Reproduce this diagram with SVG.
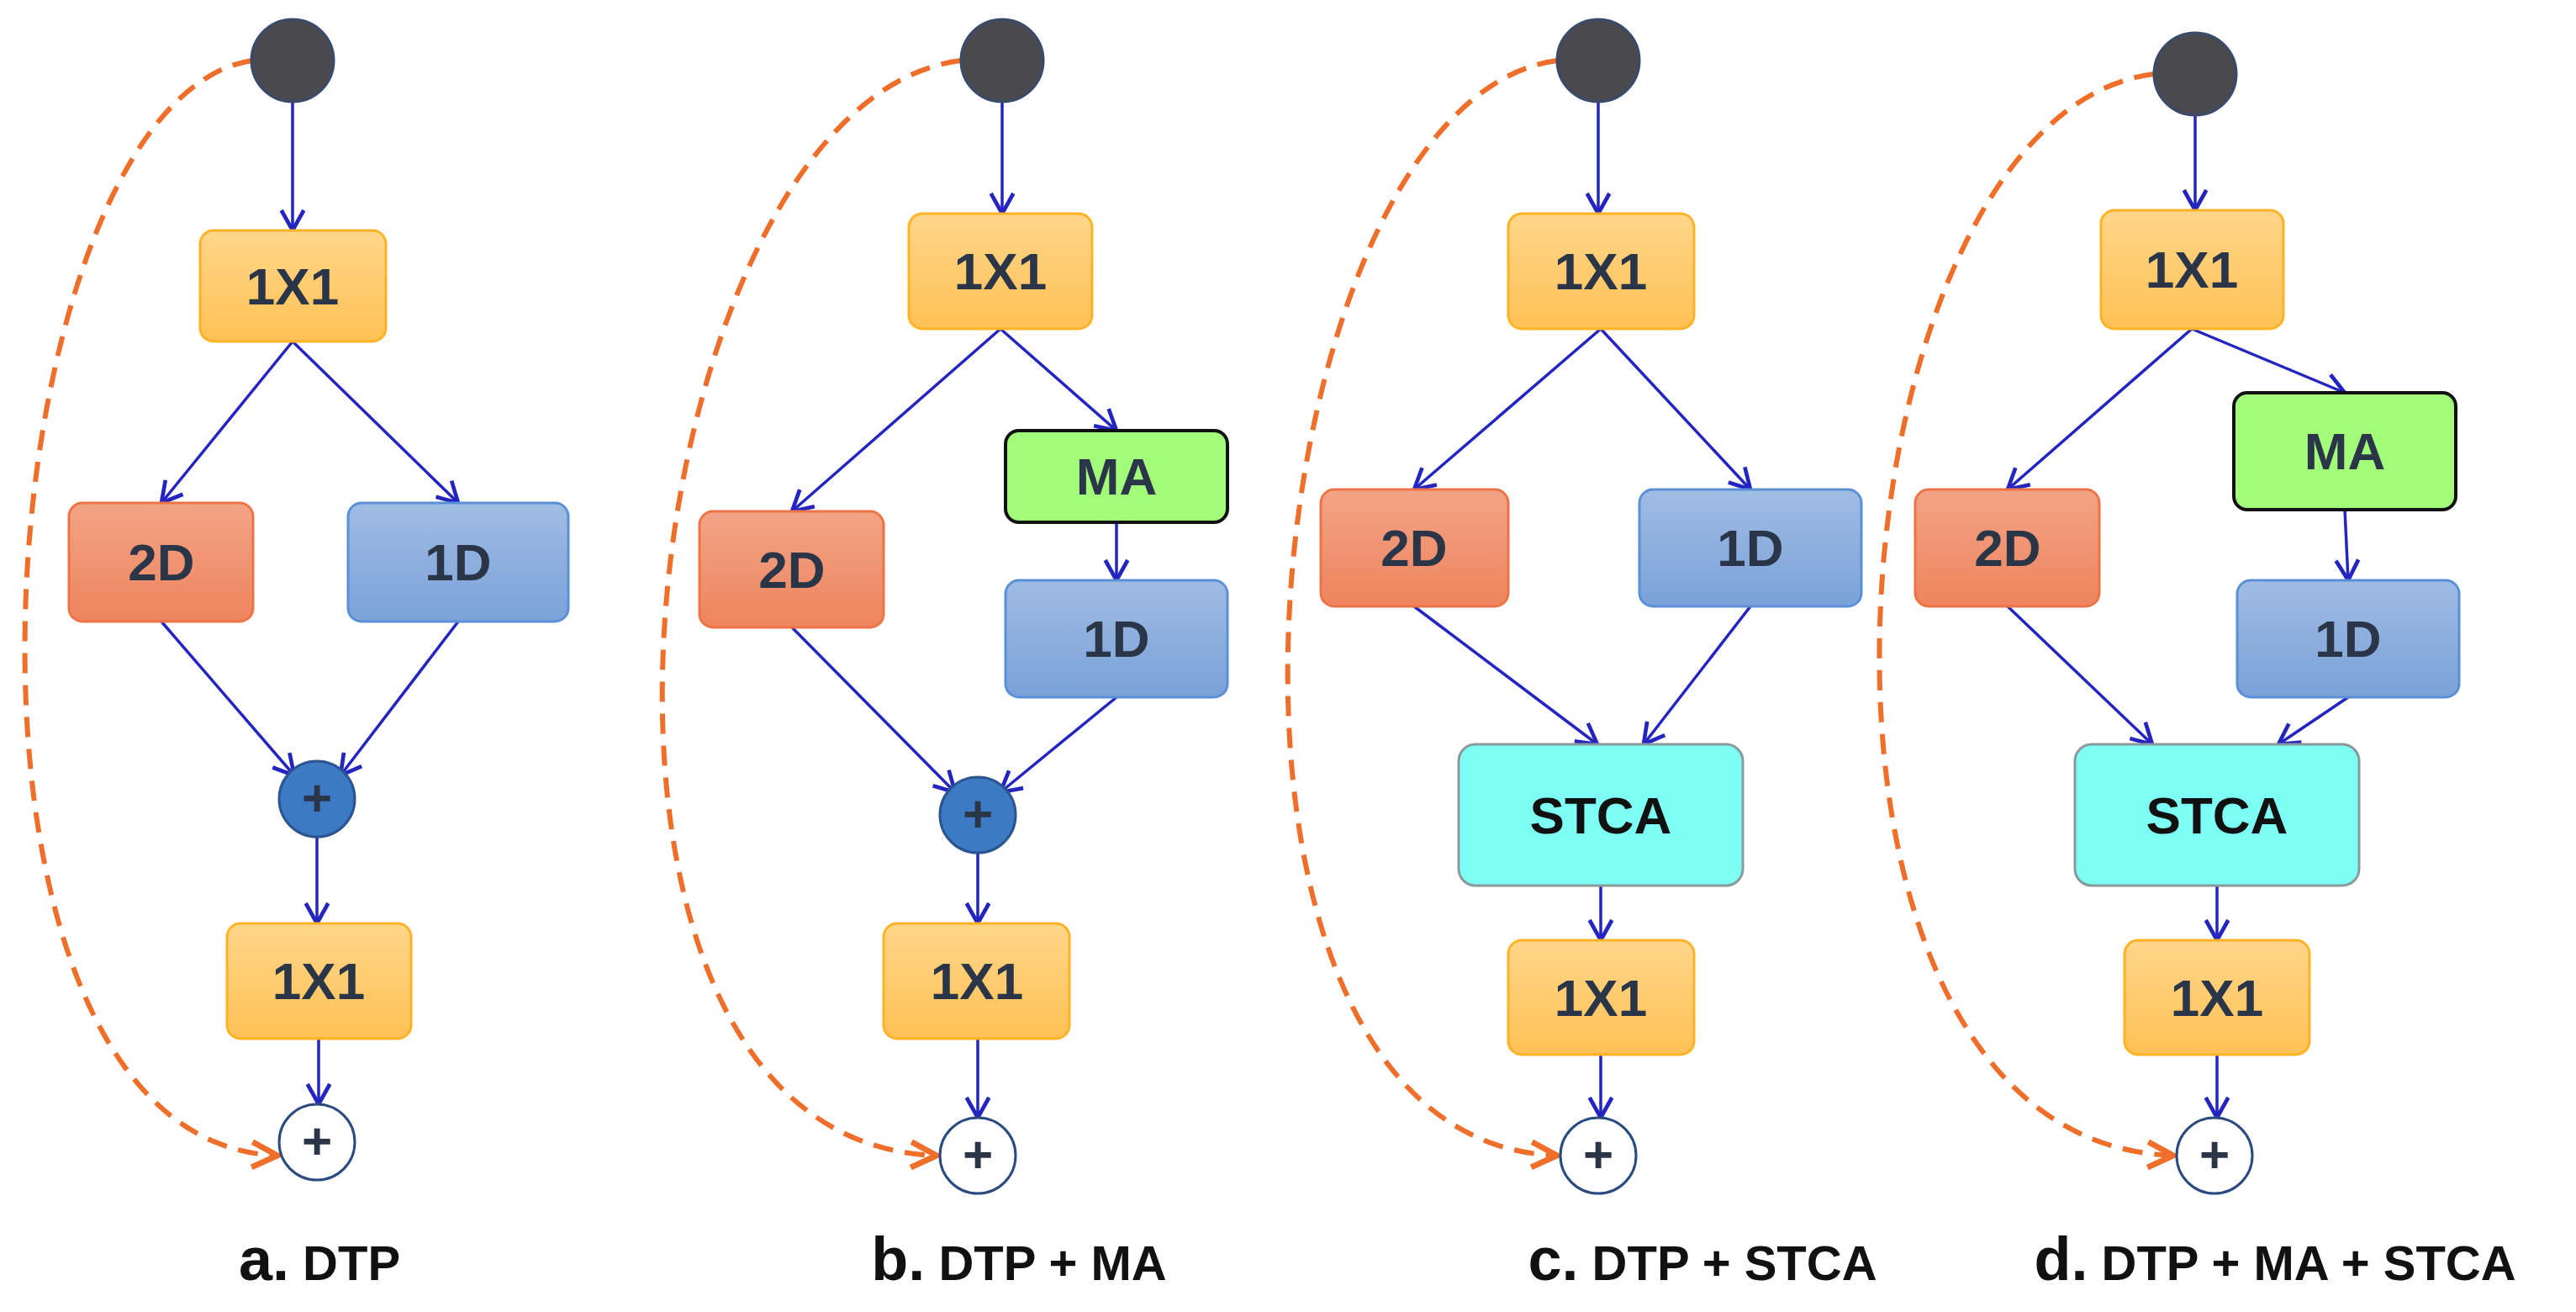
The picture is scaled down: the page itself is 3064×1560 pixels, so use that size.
<svg xmlns="http://www.w3.org/2000/svg" width="3064" height="1560" viewBox="0 0 3064 1560">
<style>
.t{font-family:"Liberation Sans",Arial,sans-serif;font-weight:bold;font-size:62px;fill:#2a3547;text-anchor:middle;dominant-baseline:central}
.lab{font-family:"Liberation Sans",Arial,sans-serif;font-weight:bold;fill:#111;text-anchor:middle}
.y{fill:url(#gy);stroke:#FFB224;stroke-width:3}
.r{fill:url(#gr);stroke:#EC7446;stroke-width:3}
.b{fill:url(#gb);stroke:#5A90D8;stroke-width:3}
.g{fill:#A2FC7A;stroke:#111;stroke-width:4}
.c{fill:#7DFFF6;stroke:#8a9a9a;stroke-width:3}
.top{fill:#4a4a4e;stroke:#3a4a6a;stroke-width:3}
.pf{fill:#3C7AC4;stroke:#2a5590;stroke-width:3}
.ph{fill:#fff;stroke:#2a4a80;stroke-width:3}
.e{stroke:#2424C0;stroke-width:3.5;fill:none;marker-end:url(#ab)}
.d{stroke:#EE6E2A;stroke-width:6;stroke-dasharray:24 14;fill:none;marker-end:url(#ao)}
</style>
<defs>
<linearGradient id="gy" x1="0" y1="0" x2="0" y2="1"><stop offset="0" stop-color="#FFD68A"/><stop offset="1" stop-color="#FFC155"/></linearGradient>
<linearGradient id="gr" x1="0" y1="0" x2="0" y2="1"><stop offset="0" stop-color="#F2A485"/><stop offset="1" stop-color="#EE845E"/></linearGradient>
<linearGradient id="gb" x1="0" y1="0" x2="0" y2="1"><stop offset="0" stop-color="#A0BCE4"/><stop offset="1" stop-color="#7AA2D8"/></linearGradient>
<marker id="ab" markerUnits="userSpaceOnUse" markerWidth="40" markerHeight="40" refX="22" refY="15" viewBox="0 0 30 30" orient="auto"><path d="M4,5 L22,15 L4,25" fill="none" stroke="#2424C0" stroke-width="3.5"/></marker>
<marker id="ao" markerUnits="userSpaceOnUse" markerWidth="44" markerHeight="44" refX="26" refY="16" viewBox="0 0 32 32" orient="auto"><path d="M4,5 L26,16 L4,27" fill="none" stroke="#EE6E2A" stroke-width="5"/></marker>
</defs>
<g id="connectors">
<path class="d" d="M300,72 C-20,120 -110,1356 330,1374"/>
<path class="d" d="M1143,72 C753,120 604,1356 1114,1374"/>
<path class="d" d="M1852,72 C1487,120 1367,1356 1852,1374"/>
<path class="d" d="M2562,88 C2172,136 2075,1356 2585,1374"/>
<path class="e" d="M348,121 V274"/>
<path class="e" d="M348,406 L192,598"/>
<path class="e" d="M348,406 L545,598"/>
<path class="e" d="M192,739 L350,922"/>
<path class="e" d="M545,739 L405,922"/>
<path class="e" d="M377,995 V1098"/>
<path class="e" d="M379,1235 V1313"/>
<path class="e" d="M1192,121 V254"/>
<path class="e" d="M1190,391 L942,608"/>
<path class="e" d="M1190,391 L1328,512"/>
<path class="e" d="M1328,621 V690"/>
<path class="e" d="M942,746 L1136,942"/>
<path class="e" d="M1328,829 L1190,942"/>
<path class="e" d="M1163,1014 V1098"/>
<path class="e" d="M1163,1235 V1329"/>
<path class="e" d="M1901,121 V254"/>
<path class="e" d="M1904,391 L1682,582"/>
<path class="e" d="M1904,391 L2082,582"/>
<path class="e" d="M1682,721 L1900,885"/>
<path class="e" d="M2082,721 L1955,885"/>
<path class="e" d="M1904,1053 V1118"/>
<path class="e" d="M1904,1254 V1329"/>
<path class="e" d="M2611,137 V250"/>
<path class="e" d="M2607,391 L2388,582"/>
<path class="e" d="M2607,391 L2789,467"/>
<path class="e" d="M2789,606 L2793,690"/>
<path class="e" d="M2388,721 L2560,885"/>
<path class="e" d="M2793,829 L2710,885"/>
<path class="e" d="M2637,1053 V1118"/>
<path class="e" d="M2637,1254 V1329"/>
</g>
<g id="a-top"><circle class="top" cx="348" cy="72" r="49"/></g>
<g id="a-1x1"><rect class="y" x="238" y="274" width="221" height="132" rx="16"/><text class="t" x="348" y="340">1X1</text></g>
<g id="a-2d"><rect class="r" x="82" y="598" width="219" height="141" rx="16"/><text class="t" x="192" y="668">2D</text></g>
<g id="a-1d"><rect class="b" x="414" y="598" width="262" height="141" rx="16"/><text class="t" x="545" y="668">1D</text></g>
<g id="a-sum"><circle class="pf" cx="377" cy="950" r="45"/><text class="t" x="377" y="948">+</text></g>
<g id="a-1x1b"><rect class="y" x="270" y="1098" width="219" height="137" rx="16"/><text class="t" x="379" y="1166">1X1</text></g>
<g id="a-out"><circle class="ph" cx="377" cy="1358" r="45"/><text class="t" x="377" y="1356">+</text></g>
<g id="b-top"><circle class="top" cx="1192" cy="72" r="49"/></g>
<g id="b-1x1"><rect class="y" x="1081" y="254" width="218" height="137" rx="16"/><text class="t" x="1190" y="322">1X1</text></g>
<g id="b-ma"><rect class="g" x="1196" y="512" width="264" height="109" rx="16"/><text class="t" x="1328" y="566">MA</text></g>
<g id="b-1d"><rect class="b" x="1196" y="690" width="264" height="139" rx="16"/><text class="t" x="1328" y="759">1D</text></g>
<g id="b-2d"><rect class="r" x="832" y="608" width="219" height="138" rx="16"/><text class="t" x="942" y="677">2D</text></g>
<g id="b-sum"><circle class="pf" cx="1163" cy="969" r="45"/><text class="t" x="1163" y="967">+</text></g>
<g id="b-1x1b"><rect class="y" x="1051" y="1098" width="221" height="137" rx="16"/><text class="t" x="1162" y="1166">1X1</text></g>
<g id="b-out"><circle class="ph" cx="1163" cy="1374" r="45"/><text class="t" x="1163" y="1372">+</text></g>
<g id="c-top"><circle class="top" cx="1901" cy="72" r="49"/></g>
<g id="c-1x1"><rect class="y" x="1794" y="254" width="221" height="137" rx="16"/><text class="t" x="1904" y="322">1X1</text></g>
<g id="c-2d"><rect class="r" x="1571" y="582" width="223" height="139" rx="16"/><text class="t" x="1682" y="651">2D</text></g>
<g id="c-1d"><rect class="b" x="1950" y="582" width="264" height="139" rx="16"/><text class="t" x="2082" y="651">1D</text></g>
<g id="c-stca"><rect class="c" x="1735" y="885" width="338" height="168" rx="20"/><text class="t" x="1904" y="969" style="fill:#111">STCA</text></g>
<g id="c-1x1b"><rect class="y" x="1794" y="1118" width="221" height="136" rx="16"/><text class="t" x="1904" y="1186">1X1</text></g>
<g id="c-out"><circle class="ph" cx="1901" cy="1374" r="45"/><text class="t" x="1901" y="1372">+</text></g>
<g id="d-top"><circle class="top" cx="2611" cy="88" r="49"/></g>
<g id="d-1x1"><rect class="y" x="2499" y="250" width="217" height="141" rx="16"/><text class="t" x="2607" y="320">1X1</text></g>
<g id="d-ma"><rect class="g" x="2657" y="467" width="264" height="139" rx="16"/><text class="t" x="2789" y="536">MA</text></g>
<g id="d-2d"><rect class="r" x="2278" y="582" width="219" height="139" rx="16"/><text class="t" x="2388" y="651">2D</text></g>
<g id="d-1d"><rect class="b" x="2661" y="690" width="264" height="139" rx="16"/><text class="t" x="2793" y="759">1D</text></g>
<g id="d-stca"><rect class="c" x="2468" y="885" width="338" height="168" rx="20"/><text class="t" x="2637" y="969" style="fill:#111">STCA</text></g>
<g id="d-1x1b"><rect class="y" x="2527" y="1118" width="220" height="136" rx="16"/><text class="t" x="2637" y="1186">1X1</text></g>
<g id="d-out"><circle class="ph" cx="2634" cy="1374" r="45"/><text class="t" x="2634" y="1372">+</text></g>
<g id="labels">
<text class="lab" x="380" y="1522"><tspan font-size="72">a.</tspan><tspan font-size="58"> DTP</tspan></text>
<text class="lab" x="1212" y="1522"><tspan font-size="72">b.</tspan><tspan font-size="58"> DTP + MA</tspan></text>
<text class="lab" x="2025" y="1522"><tspan font-size="72">c.</tspan><tspan font-size="58"> DTP + STCA</tspan></text>
<text class="lab" x="2706" y="1522"><tspan font-size="72">d.</tspan><tspan font-size="58"> DTP + MA + STCA</tspan></text>
</g>
</svg>
